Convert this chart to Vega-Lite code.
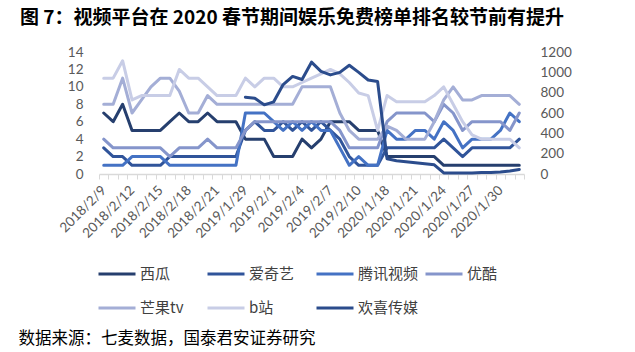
{
"$schema":"https://vega.github.io/schema/vega-lite/v6.json",
"width":425,"height":122,
"autosize":{"type":"none"},
"padding":{"left":99,"top":52,"right":111,"bottom":178},
"background":"white",
"title":{"text":"图 7：视频平台在 2020 春节期间娱乐免费榜单排名较节前有提升","anchor":"start","frame":"group","dx":-79,"offset":17,"fontSize":19,"font":"Noto Sans CJK SC","fontWeight":"bold","color":"#000000"},
"config":{"view":{"stroke":null},"font":"Lato"},
"data":{"values":[
{"d":"2018/2/9","s":"西瓜","v":7},{"d":"2018/2/10","s":"西瓜","v":6},{"d":"2018/2/11","s":"西瓜","v":8},{"d":"2018/2/12","s":"西瓜","v":5},{"d":"2018/2/13","s":"西瓜","v":5},{"d":"2018/2/14","s":"西瓜","v":5},{"d":"2018/2/15","s":"西瓜","v":5},{"d":"2018/2/16","s":"西瓜","v":6},{"d":"2018/2/17","s":"西瓜","v":7},{"d":"2018/2/18","s":"西瓜","v":6},{"d":"2018/2/19","s":"西瓜","v":6},{"d":"2018/2/20","s":"西瓜","v":7},{"d":"2018/2/21","s":"西瓜","v":6},{"d":"2018/2/22","s":"西瓜","v":6},{"d":"2018/2/23","s":"西瓜","v":6},
{"d":"2019/1/29","s":"西瓜","v":4},{"d":"2019/1/30","s":"西瓜","v":4},{"d":"2019/1/31","s":"西瓜","v":4},{"d":"2019/2/1","s":"西瓜","v":2},{"d":"2019/2/2","s":"西瓜","v":2},{"d":"2019/2/3","s":"西瓜","v":2},{"d":"2019/2/4","s":"西瓜","v":4},{"d":"2019/2/5","s":"西瓜","v":3},{"d":"2019/2/6","s":"西瓜","v":4},{"d":"2019/2/7","s":"西瓜","v":6},{"d":"2019/2/8","s":"西瓜","v":6},{"d":"2019/2/9","s":"西瓜","v":6},{"d":"2019/2/10","s":"西瓜","v":5},{"d":"2019/2/11","s":"西瓜","v":5},{"d":"2019/2/12","s":"西瓜","v":5},
{"d":"2020/1/18","s":"西瓜","v":2},{"d":"2020/1/19","s":"西瓜","v":2},{"d":"2020/1/20","s":"西瓜","v":2},{"d":"2020/1/21","s":"西瓜","v":2},{"d":"2020/1/22","s":"西瓜","v":2},{"d":"2020/1/23","s":"西瓜","v":2},{"d":"2020/1/24","s":"西瓜","v":1},{"d":"2020/1/25","s":"西瓜","v":1},{"d":"2020/1/26","s":"西瓜","v":1},{"d":"2020/1/27","s":"西瓜","v":1},{"d":"2020/1/28","s":"西瓜","v":1},{"d":"2020/1/29","s":"西瓜","v":1},{"d":"2020/1/30","s":"西瓜","v":1},{"d":"2020/1/31","s":"西瓜","v":1},{"d":"2020/2/1","s":"西瓜","v":1},
{"d":"2018/2/9","s":"爱奇艺","v":3},{"d":"2018/2/10","s":"爱奇艺","v":2},{"d":"2018/2/11","s":"爱奇艺","v":2},{"d":"2018/2/12","s":"爱奇艺","v":1},{"d":"2018/2/13","s":"爱奇艺","v":1},{"d":"2018/2/14","s":"爱奇艺","v":1},{"d":"2018/2/15","s":"爱奇艺","v":1},{"d":"2018/2/16","s":"爱奇艺","v":2},{"d":"2018/2/17","s":"爱奇艺","v":2},{"d":"2018/2/18","s":"爱奇艺","v":2},{"d":"2018/2/19","s":"爱奇艺","v":2},{"d":"2018/2/20","s":"爱奇艺","v":2},{"d":"2018/2/21","s":"爱奇艺","v":2},{"d":"2018/2/22","s":"爱奇艺","v":2},{"d":"2018/2/23","s":"爱奇艺","v":2},
{"d":"2019/1/29","s":"爱奇艺","v":5},{"d":"2019/1/30","s":"爱奇艺","v":6},{"d":"2019/1/31","s":"爱奇艺","v":5},{"d":"2019/2/1","s":"爱奇艺","v":5},{"d":"2019/2/2","s":"爱奇艺","v":6},{"d":"2019/2/3","s":"爱奇艺","v":5},{"d":"2019/2/4","s":"爱奇艺","v":6},{"d":"2019/2/5","s":"爱奇艺","v":5},{"d":"2019/2/6","s":"爱奇艺","v":6},{"d":"2019/2/7","s":"爱奇艺","v":5},{"d":"2019/2/8","s":"爱奇艺","v":4},{"d":"2019/2/9","s":"爱奇艺","v":2},{"d":"2019/2/10","s":"爱奇艺","v":1},{"d":"2019/2/11","s":"爱奇艺","v":1},{"d":"2019/2/12","s":"爱奇艺","v":1},
{"d":"2020/1/18","s":"爱奇艺","v":3},{"d":"2020/1/19","s":"爱奇艺","v":3},{"d":"2020/1/20","s":"爱奇艺","v":3},{"d":"2020/1/21","s":"爱奇艺","v":3},{"d":"2020/1/22","s":"爱奇艺","v":3},{"d":"2020/1/23","s":"爱奇艺","v":3},{"d":"2020/1/24","s":"爱奇艺","v":4},{"d":"2020/1/25","s":"爱奇艺","v":3},{"d":"2020/1/26","s":"爱奇艺","v":2},{"d":"2020/1/27","s":"爱奇艺","v":3},{"d":"2020/1/28","s":"爱奇艺","v":3},{"d":"2020/1/29","s":"爱奇艺","v":3},{"d":"2020/1/30","s":"爱奇艺","v":3},{"d":"2020/1/31","s":"爱奇艺","v":3},{"d":"2020/2/1","s":"爱奇艺","v":4},
{"d":"2018/2/9","s":"腾讯视频","v":1},{"d":"2018/2/10","s":"腾讯视频","v":1},{"d":"2018/2/11","s":"腾讯视频","v":1},{"d":"2018/2/12","s":"腾讯视频","v":2},{"d":"2018/2/13","s":"腾讯视频","v":2},{"d":"2018/2/14","s":"腾讯视频","v":2},{"d":"2018/2/15","s":"腾讯视频","v":2},{"d":"2018/2/16","s":"腾讯视频","v":1},{"d":"2018/2/17","s":"腾讯视频","v":1},{"d":"2018/2/18","s":"腾讯视频","v":1},{"d":"2018/2/19","s":"腾讯视频","v":1},{"d":"2018/2/20","s":"腾讯视频","v":1},{"d":"2018/2/21","s":"腾讯视频","v":1},{"d":"2018/2/22","s":"腾讯视频","v":1},{"d":"2018/2/23","s":"腾讯视频","v":1},
{"d":"2019/1/29","s":"腾讯视频","v":7},{"d":"2019/1/30","s":"腾讯视频","v":7},{"d":"2019/1/31","s":"腾讯视频","v":7},{"d":"2019/2/1","s":"腾讯视频","v":6},{"d":"2019/2/2","s":"腾讯视频","v":5},{"d":"2019/2/3","s":"腾讯视频","v":6},{"d":"2019/2/4","s":"腾讯视频","v":5},{"d":"2019/2/5","s":"腾讯视频","v":6},{"d":"2019/2/6","s":"腾讯视频","v":5},{"d":"2019/2/7","s":"腾讯视频","v":5},{"d":"2019/2/8","s":"腾讯视频","v":3},{"d":"2019/2/9","s":"腾讯视频","v":1},{"d":"2019/2/10","s":"腾讯视频","v":2},{"d":"2019/2/11","s":"腾讯视频","v":1},{"d":"2019/2/12","s":"腾讯视频","v":1},
{"d":"2020/1/18","s":"腾讯视频","v":5},{"d":"2020/1/19","s":"腾讯视频","v":4},{"d":"2020/1/20","s":"腾讯视频","v":4},{"d":"2020/1/21","s":"腾讯视频","v":5},{"d":"2020/1/22","s":"腾讯视频","v":5},{"d":"2020/1/23","s":"腾讯视频","v":4},{"d":"2020/1/24","s":"腾讯视频","v":6},{"d":"2020/1/25","s":"腾讯视频","v":5},{"d":"2020/1/26","s":"腾讯视频","v":3},{"d":"2020/1/27","s":"腾讯视频","v":4},{"d":"2020/1/28","s":"腾讯视频","v":4},{"d":"2020/1/29","s":"腾讯视频","v":4},{"d":"2020/1/30","s":"腾讯视频","v":5},{"d":"2020/1/31","s":"腾讯视频","v":7},{"d":"2020/2/1","s":"腾讯视频","v":6},
{"d":"2018/2/9","s":"优酷","v":4},{"d":"2018/2/10","s":"优酷","v":3},{"d":"2018/2/11","s":"优酷","v":3},{"d":"2018/2/12","s":"优酷","v":3},{"d":"2018/2/13","s":"优酷","v":3},{"d":"2018/2/14","s":"优酷","v":3},{"d":"2018/2/15","s":"优酷","v":3},{"d":"2018/2/16","s":"优酷","v":2},{"d":"2018/2/17","s":"优酷","v":3},{"d":"2018/2/18","s":"优酷","v":3},{"d":"2018/2/19","s":"优酷","v":3},{"d":"2018/2/20","s":"优酷","v":4},{"d":"2018/2/21","s":"优酷","v":3},{"d":"2018/2/22","s":"优酷","v":3},{"d":"2018/2/23","s":"优酷","v":3},
{"d":"2019/1/29","s":"优酷","v":5},{"d":"2019/1/30","s":"优酷","v":6},{"d":"2019/1/31","s":"优酷","v":6},{"d":"2019/2/1","s":"优酷","v":6},{"d":"2019/2/2","s":"优酷","v":6},{"d":"2019/2/3","s":"优酷","v":6},{"d":"2019/2/4","s":"优酷","v":6},{"d":"2019/2/5","s":"优酷","v":6},{"d":"2019/2/6","s":"优酷","v":6},{"d":"2019/2/7","s":"优酷","v":6},{"d":"2019/2/8","s":"优酷","v":5},{"d":"2019/2/9","s":"优酷","v":3},{"d":"2019/2/10","s":"优酷","v":3},{"d":"2019/2/11","s":"优酷","v":3},{"d":"2019/2/12","s":"优酷","v":3},
{"d":"2020/1/18","s":"优酷","v":6},{"d":"2020/1/19","s":"优酷","v":7},{"d":"2020/1/20","s":"优酷","v":7},{"d":"2020/1/21","s":"优酷","v":7},{"d":"2020/1/22","s":"优酷","v":7},{"d":"2020/1/23","s":"优酷","v":6},{"d":"2020/1/24","s":"优酷","v":8},{"d":"2020/1/25","s":"优酷","v":7},{"d":"2020/1/26","s":"优酷","v":5},{"d":"2020/1/27","s":"优酷","v":6},{"d":"2020/1/28","s":"优酷","v":6},{"d":"2020/1/29","s":"优酷","v":6},{"d":"2020/1/30","s":"优酷","v":6},{"d":"2020/1/31","s":"优酷","v":5},{"d":"2020/2/1","s":"优酷","v":7},
{"d":"2018/2/9","s":"芒果tv","v":8},{"d":"2018/2/10","s":"芒果tv","v":8},{"d":"2018/2/11","s":"芒果tv","v":11},{"d":"2018/2/12","s":"芒果tv","v":7},{"d":"2018/2/13","s":"芒果tv","v":8.5},{"d":"2018/2/14","s":"芒果tv","v":10},{"d":"2018/2/15","s":"芒果tv","v":11},{"d":"2018/2/16","s":"芒果tv","v":11},{"d":"2018/2/17","s":"芒果tv","v":9.5},{"d":"2018/2/18","s":"芒果tv","v":7},{"d":"2018/2/19","s":"芒果tv","v":7},{"d":"2018/2/20","s":"芒果tv","v":9},{"d":"2018/2/21","s":"芒果tv","v":8},{"d":"2018/2/22","s":"芒果tv","v":8},{"d":"2018/2/23","s":"芒果tv","v":8},
{"d":"2019/1/29","s":"芒果tv","v":8},{"d":"2019/1/30","s":"芒果tv","v":8},{"d":"2019/1/31","s":"芒果tv","v":8},{"d":"2019/2/1","s":"芒果tv","v":8},{"d":"2019/2/2","s":"芒果tv","v":8},{"d":"2019/2/3","s":"芒果tv","v":8},{"d":"2019/2/4","s":"芒果tv","v":10},{"d":"2019/2/5","s":"芒果tv","v":10},{"d":"2019/2/6","s":"芒果tv","v":10},{"d":"2019/2/7","s":"芒果tv","v":10},{"d":"2019/2/8","s":"芒果tv","v":7},{"d":"2019/2/9","s":"芒果tv","v":5},{"d":"2019/2/10","s":"芒果tv","v":4},{"d":"2019/2/11","s":"芒果tv","v":4},{"d":"2019/2/12","s":"芒果tv","v":4},
{"d":"2020/1/18","s":"芒果tv","v":5.5},{"d":"2020/1/19","s":"芒果tv","v":5},{"d":"2020/1/20","s":"芒果tv","v":4},{"d":"2020/1/21","s":"芒果tv","v":4},{"d":"2020/1/22","s":"芒果tv","v":4},{"d":"2020/1/23","s":"芒果tv","v":6},{"d":"2020/1/24","s":"芒果tv","v":8.5},{"d":"2020/1/25","s":"芒果tv","v":10},{"d":"2020/1/26","s":"芒果tv","v":8.5},{"d":"2020/1/27","s":"芒果tv","v":8.5},{"d":"2020/1/28","s":"芒果tv","v":9},{"d":"2020/1/29","s":"芒果tv","v":9},{"d":"2020/1/30","s":"芒果tv","v":9},{"d":"2020/1/31","s":"芒果tv","v":9},{"d":"2020/2/1","s":"芒果tv","v":8},
{"d":"2018/2/9","s":"b站","v":11},{"d":"2018/2/10","s":"b站","v":11},{"d":"2018/2/11","s":"b站","v":13},{"d":"2018/2/12","s":"b站","v":8.5},{"d":"2018/2/13","s":"b站","v":9},{"d":"2018/2/14","s":"b站","v":9},{"d":"2018/2/15","s":"b站","v":9},{"d":"2018/2/16","s":"b站","v":9},{"d":"2018/2/17","s":"b站","v":12},{"d":"2018/2/18","s":"b站","v":11},{"d":"2018/2/19","s":"b站","v":11},{"d":"2018/2/20","s":"b站","v":10},{"d":"2018/2/21","s":"b站","v":9},{"d":"2018/2/22","s":"b站","v":9},{"d":"2018/2/23","s":"b站","v":9},
{"d":"2019/1/29","s":"b站","v":11},{"d":"2019/1/30","s":"b站","v":10},{"d":"2019/1/31","s":"b站","v":11},{"d":"2019/2/1","s":"b站","v":11},{"d":"2019/2/2","s":"b站","v":10},{"d":"2019/2/3","s":"b站","v":10},{"d":"2019/2/4","s":"b站","v":10.5},{"d":"2019/2/5","s":"b站","v":11},{"d":"2019/2/6","s":"b站","v":11.5},{"d":"2019/2/7","s":"b站","v":12},{"d":"2019/2/8","s":"b站","v":11.5},{"d":"2019/2/9","s":"b站","v":10.5},{"d":"2019/2/10","s":"b站","v":9.3},{"d":"2019/2/11","s":"b站","v":9},{"d":"2019/2/12","s":"b站","v":5},
{"d":"2020/1/18","s":"b站","v":9},{"d":"2020/1/19","s":"b站","v":8.3},{"d":"2020/1/20","s":"b站","v":8.3},{"d":"2020/1/21","s":"b站","v":8.3},{"d":"2020/1/22","s":"b站","v":8.3},{"d":"2020/1/23","s":"b站","v":9},{"d":"2020/1/24","s":"b站","v":10},{"d":"2020/1/25","s":"b站","v":8},{"d":"2020/1/26","s":"b站","v":6},{"d":"2020/1/27","s":"b站","v":4.5},{"d":"2020/1/28","s":"b站","v":4},{"d":"2020/1/29","s":"b站","v":4},{"d":"2020/1/30","s":"b站","v":4},{"d":"2020/1/31","s":"b站","v":4},{"d":"2020/2/1","s":"b站","v":3},
{"d":"2019/1/29","s":"欢喜传媒","v":755},{"d":"2019/1/30","s":"欢喜传媒","v":745},{"d":"2019/1/31","s":"欢喜传媒","v":680},{"d":"2019/2/1","s":"欢喜传媒","v":710},{"d":"2019/2/2","s":"欢喜传媒","v":880},{"d":"2019/2/3","s":"欢喜传媒","v":960},{"d":"2019/2/4","s":"欢喜传媒","v":930},{"d":"2019/2/5","s":"欢喜传媒","v":1100},{"d":"2019/2/6","s":"欢喜传媒","v":1010},{"d":"2019/2/7","s":"欢喜传媒","v":975},{"d":"2019/2/8","s":"欢喜传媒","v":1000},{"d":"2019/2/9","s":"欢喜传媒","v":1070},{"d":"2019/2/10","s":"欢喜传媒","v":1000},{"d":"2019/2/11","s":"欢喜传媒","v":925},{"d":"2019/2/12","s":"欢喜传媒","v":910},
{"d":"2020/1/18","s":"欢喜传媒","v":150},{"d":"2020/1/19","s":"欢喜传媒","v":130},{"d":"2020/1/20","s":"欢喜传媒","v":120},{"d":"2020/1/21","s":"欢喜传媒","v":110},{"d":"2020/1/22","s":"欢喜传媒","v":100},{"d":"2020/1/23","s":"欢喜传媒","v":90},{"d":"2020/1/24","s":"欢喜传媒","v":10},{"d":"2020/1/25","s":"欢喜传媒","v":10},{"d":"2020/1/26","s":"欢喜传媒","v":10},{"d":"2020/1/27","s":"欢喜传媒","v":10},{"d":"2020/1/28","s":"欢喜传媒","v":15},{"d":"2020/1/29","s":"欢喜传媒","v":15},{"d":"2020/1/30","s":"欢喜传媒","v":20},{"d":"2020/1/31","s":"欢喜传媒","v":30},{"d":"2020/2/1","s":"欢喜传媒","v":45}
]},
"encoding":{
 "x":{"field":"d","type":"ordinal","bandPosition":0.5,
  "scale":{"type":"band","paddingInner":0,"paddingOuter":0,"domain":["2018/2/9","2018/2/10","2018/2/11","2018/2/12","2018/2/13","2018/2/14","2018/2/15","2018/2/16","2018/2/17","2018/2/18","2018/2/19","2018/2/20","2018/2/21","2018/2/22","2018/2/23","2019/1/29","2019/1/30","2019/1/31","2019/2/1","2019/2/2","2019/2/3","2019/2/4","2019/2/5","2019/2/6","2019/2/7","2019/2/8","2019/2/9","2019/2/10","2019/2/11","2019/2/12","2020/1/18","2020/1/19","2020/1/20","2020/1/21","2020/1/22","2020/1/23","2020/1/24","2020/1/25","2020/1/26","2020/1/27","2020/1/28","2020/1/29","2020/1/30","2020/1/31","2020/2/1"]},
  "axis":{"tickBand":"extent","labelExpr":"indexof(['2018/2/9','2018/2/12','2018/2/15','2018/2/18','2018/2/21','2019/1/29','2019/2/1','2019/2/4','2019/2/7','2019/2/10','2020/1/18','2020/1/21','2020/1/24','2020/1/27','2020/1/30'], datum.value) >= 0 ? datum.value : ''",
   "labelAngle":-45,"labelAlign":"right","labelBaseline":"middle","labelOverlap":false,"labelFont":"Lato","labelFontSize":13.5,"labelColor":"#595959","labelPadding":9,
   "domainColor":"#d9d9d9","domainWidth":1.5,"tickColor":"#d9d9d9","tickSize":5,"grid":false,
   "title":"数据来源：七麦数据，国泰君安证券研究","titleX":-81,"titleY":164,"titleAlign":"left","titleAnchor":"start","titleBaseline":"middle","titleAngle":0,"titleFont":"Noto Sans CJK SC","titleFontSize":16.5,"titleFontWeight":"normal","titleColor":"#000000"}},
 "color":{"field":"s","type":"nominal",
  "scale":{"domain":["西瓜","爱奇艺","腾讯视频","优酷","芒果tv","b站","欢喜传媒"],"range":["#263F6E","#30549A","#4472C4","#8595CB","#A4AED6","#C8CDE6","#2B4C8C"]},
  "legend":{"orient":"none","legendX":-2,"legendY":202,"columns":4,"gridAlign":"all","columnPadding":0,"rowPadding":6,"symbolType":"stroke","symbolSize":1369,"symbolStrokeWidth":3,"labelFontSize":15,"labelFont":"Noto Sans CJK SC","labelColor":"#404040","labelOffset":3,"title":null,"direction":"horizontal"}}
},
"layer":[
 {"transform":[{"filter":"datum.s !== '欢喜传媒'"}],
  "mark":{"type":"line","strokeWidth":3,"strokeJoin":"round","strokeCap":"round"},
  "encoding":{"y":{"field":"v","type":"quantitative","scale":{"domain":[0,14],"nice":false},
   "axis":{"orient":"left","values":[0,2,4,6,8,10,12,14],"domain":false,"ticks":false,"grid":false,"labelPadding":16,"labelFont":"Lato","labelFontSize":13.5,"labelColor":"#595959","title":null}}}},
 {"transform":[{"filter":"datum.s === '欢喜传媒'"}],
  "mark":{"type":"line","strokeWidth":3,"strokeJoin":"round","strokeCap":"round"},
  "encoding":{"y":{"field":"v","type":"quantitative","scale":{"domain":[0,1200],"nice":false},
   "axis":{"orient":"right","values":[0,200,400,600,800,1000,1200],"format":"d","domain":false,"ticks":false,"grid":false,"labelPadding":16,"labelFont":"Lato","labelFontSize":13.5,"labelColor":"#595959","title":null}}}}
],
"resolve":{"scale":{"y":"independent"}}
}
